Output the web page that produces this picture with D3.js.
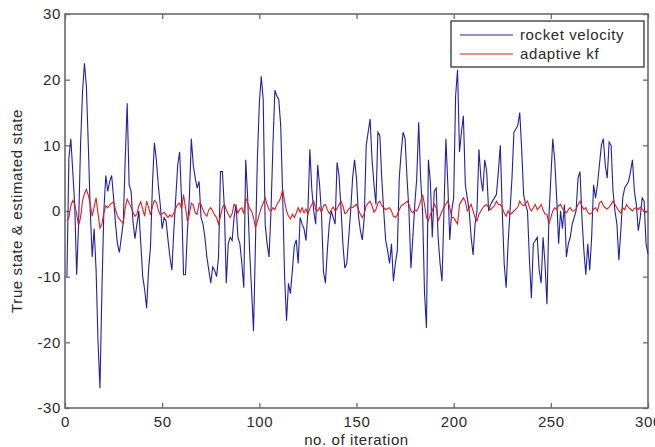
<!DOCTYPE html>
<html><head><meta charset="utf-8">
<script src="https://cdn.jsdelivr.net/npm/d3@7/dist/d3.min.js"></script>
<style>
body{margin:0;background:#fff}
text{font-family:Arial,"Liberation Sans",Helvetica,sans-serif;fill:#2a2a2a}
</style>
</head><body>
<svg id="chart" width="655" height="447"></svg>
<script>
const xTicks = [0, 50, 100, 150, 200, 250, 300];
const yTicks = [-30, -20, -10, 0, 10, 20, 30];
const seriesNames = ["rocket velocity", "adaptive kf"];
const xLabel = "no. of iteration";
const yLabel = "True state & estimated state";

// iteration 1..300
const rocketVelocity = [
 -10, 8, 11, 6, 1, -9.7, -2, 10, 18, 22.5,
 19, 10, 0, -7, -2.7, -9, -20, -27, -12, 0,
 5.4, 3, 4.5, 5.4, 2, -2, -5, -6.3, -4, -1.7,
 8, 16.4, 4, 3, -1.7, -4.2, -2, 0, -5, -10,
 -12, -14.8, -9, -5.4, 4, 10.4, 7.8, 4, 1, -2.7,
 -1, -1.5, -4.4, -7, -9, -3, 2, 7, 9, 1.5,
 -9.7, -9.7, -3, 2, 11, 7, 5, 3.5, 4.5, -1,
 -2, -4, -7, -9, -11, -8.5, -9, -10, -7, 6,
 6, 0.5, -11, -5, -4, -4.5, -1, 1, -4, -5,
 -8, -11.7, 7.8, 2, -6, -12, -18.3, -5, 8, 16.4,
 20.5, 17, -2, -5, -7, 0, 10, 18.4, 17.5, 17,
 13, 2.5, -10, -16.7, -11, -12.6, -9, -5.3, -4.4, -8,
 -1, -2, -2.7, -4.5, 0, 9.4, 3.3, 0, -2, 7,
 4, -0.5, -9.2, -11, -6, -2, 0, -1, -2, 7.4,
 5.4, 0.5, -5, -8.7, -8, -4, 0, 5, 7.8, 5,
 -0.7, -3, -4.4, -1, 10, 12, 14, 7.8, 4, 1,
 12, 11.5, 5, 0, -4.4, -6, -8, -5, -10.7, -8,
 -6, 5, 9, 12, 11, 5, 0, -8.7, -4, 1,
 5, 13.5, 5, 0, -12.5, -17.8, 7.8, 4.5, -4, 3,
 3.5, -4, -8, -10.7, 0, 11, 4, -4.4, 0, 2,
 17.5, 21.5, 9, 12, 14.5, 4, 2, 0, -4, -6.7,
 -2, 0, 9.4, 5, 3, 7.8, 6, 0, 1, 1.5,
 2, 2.5, 6, 10, 0, -8, -11.7, -5, 0, 5,
 12, 12.5, 13, 15, 9.4, 2.5, 1, 0, -7.5, -13.3,
 -5, -4.5, -4, -9, -11, -4, -8, -14.2, -1, 5,
 11, 7.8, 2, -5, 0, -2.7, 1, -7, -5, -4,
 -2, -1, 0, 5, 6, -1, -6, -9.7, -5, -9,
 -4, 4, 2, 4, 7, 10, 11, 7, 5, 10.5,
 10, 3, 0, -2, -7.5, -3, 2, 3.5, 4, 4.5,
 6, 7.8, 3, 1, -3, -1, 2, 1.5, -5, -6.5
];

const adaptiveKf = [
 -1.5, -1.0, 0.8, 1.6, 1.0, -0.5, -2.2, -1.0, 1.5, 2.6,
 3.3, 2.4, 1.0, -0.8, 0.6, 2.0, -0.4, -2.6, -2.0, -0.3,
 0.8, 0.5, 0.9, 1.2, 1.4, 0.2, -0.8, -1.2, -1.6, -1.9,
 0.5, 1.8, 1.2, 0.6, -0.2, -0.8, -0.5, 0.8, 1.4, 0.3,
 -0.8, 1.5, 0.6, -0.6, 0.7, 1.6, 1.3, 0.2, -0.6, -0.4,
 -0.2, -0.6, -1.0, -0.6, -0.9, -0.3, 0.4, 1.0, 1.2, 0.3,
 2.5, 0.5, -1.5, -0.5, 1.2, 0.9, -0.3, -0.5, 1.2, 1.0,
 0.2, -0.5, -0.8, 0.2, 0.5, 0.0, -0.6, -1.0, -2.0, -0.8,
 0.5, 1.0, 0.2, -0.5, -1.0, -0.4, 1.0, 0.6, -0.3, 0.3,
 0.5, -0.4, 2.0, 1.2, 0.4, 0.0, -1.0, -2.5, -1.6, -0.5,
 0.5, 1.2, 2.0, 1.0, 0.2, 0.0, 0.5, 0.2, 1.0, 1.4,
 2.0, 3.3, 1.5, 0.0, -0.8, -1.2, -0.5, -1.0, -0.3, 0.5,
 -0.2, 0.5, -0.3, 0.3, -0.5, 0.4, 1.0, 1.5, 0.3, 0.0,
 0.5, -0.2, 0.8, 1.0, 0.2, -0.4, 0.2, 0.6, 0.0, 0.4,
 1.0, 1.5, 0.8, -0.4, -0.2, 0.3, 0.6, 0.5, 0.8, 1.0,
 0.2, -0.5, -1.0, -0.4, 0.8, 1.2, 1.5, 0.8, -0.2, 0.2,
 1.2, 1.5, 0.8, 0.5, 0.2, 0.4, 0.5, 0.0, -0.8, -1.0,
 -0.6, 0.2, 0.8, 1.0, 1.2, 1.5, 1.0, 0.0, -0.3, 0.2,
 0.0, 0.6, 1.5, 2.5, 1.0, -1.0, -1.5, -0.5, 0.0, 1.0,
 0.5, -1.5, -0.8, 0.0, 0.6, 1.0, 1.5, 0.5, -1.0, -1.0,
 -1.5, -2.0, 1.0, 1.5, 2.0, 1.5, 0.0, 0.5, 1.0, 0.0,
 -1.0, -1.5, -0.5, 0.0, 0.5, 0.8, 1.0, 0.5, 0.2, 0.5,
 0.8, 1.5, 1.0, 1.0, 0.5, -0.3, -0.8, 0.0, -0.5, -0.3,
 0.0, 0.3, 0.6, 1.5, 1.0, 0.8, 1.2, 1.5, 0.5, 0.0,
 0.5, 1.0, 0.2, 0.5, 1.0, 0.2, -0.5, -0.5, -2.0, -1.0,
 0.0, 0.5, 0.2, 0.8, 1.0, 0.4, 0.0, -0.3, 0.2, 0.5,
 0.0, 0.0, 0.3, 1.0, 1.5, 0.8, 0.2, 0.5, -0.2, -0.5,
 -0.3, 0.3, 0.5, 0.0, 1.2, 1.5, 0.8, 0.5, 0.3, 0.6,
 1.0, 1.5, 1.0, 0.5, 0.0, -0.3, 0.5, 0.2, 1.0, 0.5,
 0.3, 0.0, 0.4, 0.5, 0.2, 0.6, 0.3, 0.0, -0.2, 0.0
];

const seriesColors = ["#2020a6", "#e01c1c"];

const svg = d3.select("#chart");
const L = 65, R = 648, T = 14, B = 408;
const x = d3.scaleLinear().domain([0, 300]).range([L, R]);
const y = d3.scaleLinear().domain([-30, 30]).range([B, T]);

const axisColor = "#6a6a6a";
const fontSize = 15;
const ls = "0.6px";
const fmt = d => String(d);

// axes with inward ticks on all four sides
const tickLen = 5;
const gB = svg.append("g").attr("transform", `translate(0,${B})`)
  .call(d3.axisBottom(x).tickValues(xTicks).tickSizeInner(-tickLen).tickSizeOuter(0).tickPadding(8).tickFormat(fmt));
const gT = svg.append("g").attr("transform", `translate(0,${T})`)
  .call(d3.axisTop(x).tickValues(xTicks).tickSizeInner(-tickLen).tickSizeOuter(0).tickFormat(""));
const gL = svg.append("g").attr("transform", `translate(${L},0)`)
  .call(d3.axisLeft(y).tickValues(yTicks).tickSizeInner(-tickLen).tickSizeOuter(0).tickPadding(4).tickFormat(fmt));
const gR = svg.append("g").attr("transform", `translate(${R},0)`)
  .call(d3.axisRight(y).tickValues(yTicks).tickSizeInner(-tickLen).tickSizeOuter(0).tickFormat(""));
[gB, gT, gL, gR].forEach(g => {
  g.select(".domain").remove();
  g.selectAll(".tick line").attr("stroke", axisColor).attr("stroke-width", 1.3);
  g.selectAll(".tick text").attr("font-size", fontSize).attr("fill", "#2a2a2a")
    .style("letter-spacing", ls).attr("font-family", "Arial, 'Liberation Sans', sans-serif");
});

// box
svg.append("rect").attr("x", L).attr("y", T).attr("width", R - L).attr("height", B - T)
  .attr("fill", "none").attr("stroke", axisColor).attr("stroke-width", 1.6);

const line = d3.line().x((d, i) => x(i + 1)).y(d => y(d));
const plot = svg.append("g");
plot.append("path").datum(rocketVelocity).attr("d", line)
  .attr("fill", "none").attr("stroke", seriesColors[0]).attr("stroke-width", 1.1);
plot.append("path").datum(adaptiveKf).attr("d", line)
  .attr("fill", "none").attr("stroke", seriesColors[1]).attr("stroke-width", 1.1);

// axis labels
svg.append("text").attr("x", (L + R) / 2).attr("y", 445).attr("text-anchor", "middle")
  .attr("font-size", fontSize).style("letter-spacing", ls).text(xLabel);
svg.append("text").attr("transform", `translate(22,${(T + B) / 2}) rotate(-90)`)
  .attr("text-anchor", "middle").attr("font-size", fontSize).style("letter-spacing", ls).text(yLabel);

// legend
const lg = svg.append("g");
lg.append("rect").attr("x", 451).attr("y", 21).attr("width", 193).attr("height", 46)
  .attr("fill", "#fff").attr("stroke", "#222").attr("stroke-width", 1.2);
seriesNames.forEach((name, i) => {
  const yy = 35 + i * 19;
  lg.append("line").attr("x1", 460).attr("x2", 513).attr("y1", yy).attr("y2", yy)
    .attr("stroke", seriesColors[i]).attr("stroke-width", 1.1);
  lg.append("text").attr("x", 520).attr("y", yy + 5).attr("font-size", fontSize)
    .style("letter-spacing", ls).text(name);
});
</script>
</body></html>
